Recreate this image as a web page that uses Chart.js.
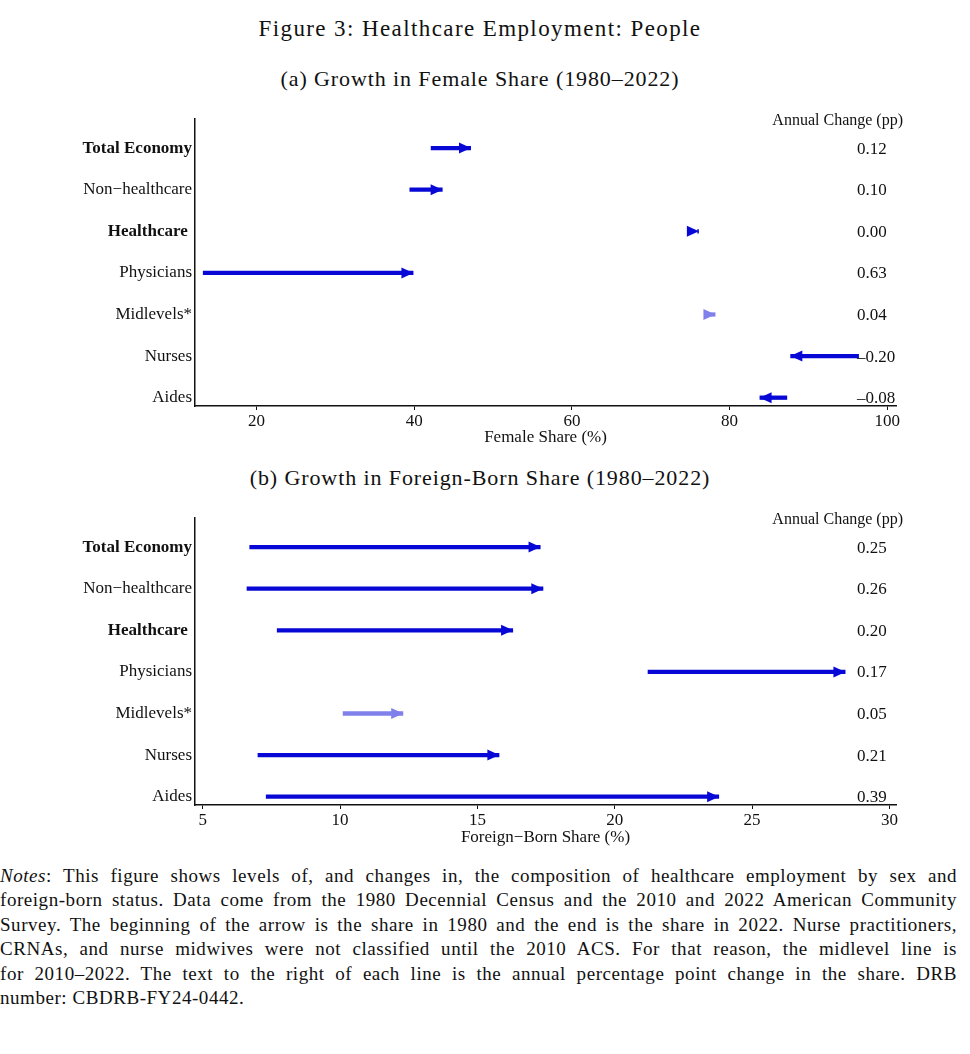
<!DOCTYPE html>
<html>
<head>
<meta charset="utf-8">
<script src="https://cdn.jsdelivr.net/npm/chart.js@4.4.1/dist/chart.umd.min.js"></script>
<style>
  body { margin: 0; background: #fff; width: 970px; height: 1054px; position: relative; overflow: hidden; }
  .ttl { position: absolute; left: 0; width: 960px; text-align: center; font-family: "Liberation Serif", serif; color: #111; white-space: nowrap; }
  #fig { top: 16px; font-size: 23px; letter-spacing: 1.4px; }
  #ta { top: 66px; font-size: 22px; letter-spacing: 0.9px; }
  #tb { top: 465px; font-size: 22px; letter-spacing: 0.9px; }
  canvas { position: absolute; left: 0; }
  #chartA { top: 100px; }
  #chartB { top: 500px; }
  #notes { position: absolute; left: 0; top: 864px; width: 957px; font-family: "Liberation Serif", serif; font-size: 19px; letter-spacing: 0.55px; line-height: 24.4px; color: #111; }
  #notes div { text-align: justify; text-align-last: justify; white-space: nowrap; }
  #notes div.last { text-align-last: left; }
</style>
</head>
<body>
<div class="ttl" id="fig">Figure 3: Healthcare Employment: People</div>
<div class="ttl" id="ta">(a) Growth in Female Share (1980–2022)</div>
<div class="ttl" id="tb">(b) Growth in Foreign-Born Share (1980–2022)</div>
<canvas id="chartA" width="970" height="350"></canvas>
<canvas id="chartB" width="970" height="350"></canvas>
<div id="notes">
  <div><i>Notes</i>: This figure shows levels of, and changes in, the composition of healthcare employment by sex and</div>
  <div>foreign-born status. Data come from the 1980 Decennial Census and the 2010 and 2022 American Community</div>
  <div>Survey. The beginning of the arrow is the share in 1980 and the end is the share in 2022. Nurse practitioners,</div>
  <div>CRNAs, and nurse midwives were not classified until the 2010 ACS. For that reason, the midlevel line is</div>
  <div>for 2010–2022. The text to the right of each line is the annual percentage point change in the share. DRB</div>
  <div class="last">number: CBDRB-FY24-0442.</div>
</div>
<script>
// rows, top to bottom
const rowLabels = ['Total Economy', 'Non−healthcare', 'Healthcare ', 'Physicians', 'Midlevels*', 'Nurses', 'Aides'];
const rowPos = [1, 2, 3, 4, 5, 6, 7];
const boldRows = [1, 3];
const lightRows = [5]; // midlevels only from 2010

// panel (a) female share, %
const female1980 = [42.1, 39.4, 75.9, 13.2, 77.6, 96.4, 87.3];
const female2022 = [47.2, 43.6, 76.1, 39.9, 78.2, 87.7, 83.8];
const femaleChange = ['0.12', '0.10', '0.00', '0.63', '0.04', '–0.20', '–0.08'];
const femaleTicks = [20, 40, 60, 80, 100];

// panel (b) foreign-born share, %
const foreign1980 = [6.7, 6.6, 7.7, 21.2, 10.1, 7.0, 7.3];
const foreign2022 = [17.3, 17.4, 16.3, 28.4, 12.3, 15.8, 23.8];
const foreignChange = ['0.25', '0.26', '0.20', '0.17', '0.05', '0.21', '0.39'];
const foreignTicks = [5, 10, 15, 20, 25, 30];

const DARK = 'rgb(8,8,214)';
const LIGHT = 'rgb(128,128,236)';
const SERIF = '"Liberation Serif", "Times New Roman", serif';

// arrowheads + right hand text column
const arrowPlugin = {
  id: 'arrows',
  afterDatasetsDraw(chart, args, opts) {
    const {ctx, chartArea} = chart;
    const xs = chart.scales.x, ys = chart.scales.y;
    ctx.save();
    chart.data.datasets.forEach((ds) => {
      const a = ds.data[0], b = ds.data[1];
      const x0 = xs.getPixelForValue(a.x);
      const x1 = xs.getPixelForValue(b.x);
      const y = ys.getPixelForValue(b.y);
      const dir = x1 >= x0 ? 1 : -1;
      const len = 12, half = 5.5;
      ctx.fillStyle = ds.borderColor;
      ctx.beginPath();
      ctx.moveTo(x1, y);
      ctx.lineTo(x1 - dir * len, y - half);
      ctx.lineTo(x1 - dir * len, y + half);
      ctx.closePath();
      ctx.fill();
    });
    ctx.fillStyle = '#111';
    ctx.font = '17px ' + SERIF;
    ctx.textBaseline = 'middle';
    ctx.textAlign = 'left';
    opts.changes.forEach((t, i) => {
      ctx.fillText(t, chartArea.right - 39, ys.getPixelForValue(rowPos[i]) + 1);
    });
    ctx.font = '16px ' + SERIF;
    ctx.textAlign = 'right';
    ctx.fillText('Annual Change (pp)', chartArea.right + 7, chartArea.top + 2);
    ctx.restore();
  }
};

function makePanel(canvasId, starts, ends, changes, ticks, xmin, xmax, xTitle, padTop, xHeight) {
  const datasets = rowPos.map((r, i) => ({
    data: [{x: starts[i], y: r}, {x: ends[i], y: r}],
    showLine: true,
    borderColor: lightRows.includes(r) ? LIGHT : DARK,
    borderWidth: 4.3,
    borderCapStyle: 'butt',
    pointRadius: 0
  }));
  return new Chart(document.getElementById(canvasId), {
    type: 'scatter',
    data: { datasets: datasets },
    plugins: [arrowPlugin],
    options: {
      responsive: false,
      animation: false,
      layout: { padding: { top: padTop, right: 74, left: 0, bottom: 0 } },
      plugins: {
        legend: { display: false },
        tooltip: { enabled: false },
        arrows: { changes: changes }
      },
      scales: {
        x: {
          type: 'linear',
          min: xmin,
          max: xmax,
          afterBuildTicks: (s) => { s.ticks = ticks.map(v => ({ value: v })); },
          afterFit: (s) => { s.height = xHeight; },
          grid: { drawOnChartArea: false, drawTicks: true, tickLength: 4, tickColor: '#111', tickWidth: 1 },
          border: { display: true, color: '#111', width: 1.5 },
          ticks: { color: '#111', padding: 1, font: { family: SERIF, size: 17 }, maxRotation: 0 },
          title: { display: true, text: xTitle, color: '#111', font: { family: SERIF, size: 17 }, padding: { top: 0, bottom: 2 } }
        },
        y: {
          type: 'linear',
          reverse: true,
          min: 0.3,
          max: 7.2,
          afterBuildTicks: (s) => { s.ticks = rowPos.map(v => ({ value: v })); },
          afterFit: (s) => { s.width = 195; },
          grid: { drawOnChartArea: false, drawTicks: false },
          border: { display: true, color: '#111', width: 1.5 },
          ticks: {
            color: '#111',
            padding: 3,
            autoSkip: false,
            callback: (v) => rowLabels[rowPos.indexOf(v)],
            font: (c) => ({ family: SERIF, size: 17, weight: c.tick && boldRows.includes(c.tick.value) ? 'bold' : 'normal' })
          }
        }
      }
    }
  });
}

makePanel('chartA', female1980, female2022, femaleChange, femaleTicks, 12.2, 101.1, 'Female Share (%)', 19, 44);
makePanel('chartB', foreign1980, foreign2022, foreignChange, foreignTicks, 4.72, 30.24, 'Foreign−Born Share (%)', 18, 45);
</script>
</body>
</html>
